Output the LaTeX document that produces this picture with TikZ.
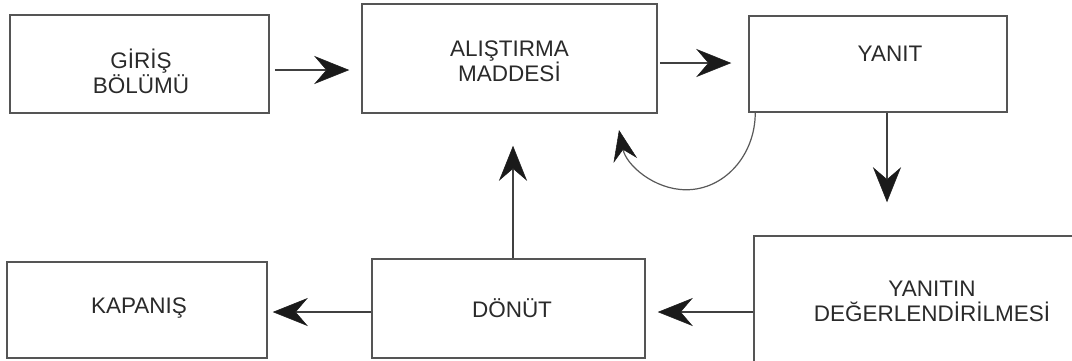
\documentclass[tikz,border=0pt]{standalone}
\usepackage{fontspec}
\setmainfont{Liberation Sans}
\usetikzlibrary{arrows.meta,calc}
\definecolor{boxline}{HTML}{555555}
\definecolor{txt}{HTML}{2A2A2A}
\definecolor{tipc}{HTML}{1A1A1A}
\begin{document}
\begin{tikzpicture}[x=1pt,y=-1pt,
  box/.style={draw=boxline,line width=1.5pt,rectangle,inner sep=0pt,fill=white},
  lbl/.style={text=txt,align=center,font=\fontsize{22.5}{25}\selectfont},
  arr/.style={draw=black!75,line width=1.3pt,-{Stealth[length=35pt,width=28pt,inset=12pt,color=tipc,fill=tipc,line width=0.5pt]}}]
\useasboundingbox (0,0) rectangle (1072,360);
\clip (0,0) rectangle (1072,360);
\fill[white] (0,0) rectangle (1072,360);
% boxes
\node[box,minimum width=259pt,minimum height=98pt,
  label={[lbl,xshift=1.5pt,yshift=-7pt]center:{GİRİŞ\\BÖLÜMÜ}}] (giris) at (139.5,64) {};
\node[box,minimum width=295pt,minimum height=109pt,
  label={[lbl,yshift=-3pt]center:{ALIŞTIRMA\\MADDESİ}}] (alistirma) at (509.5,58.5) {};
\node[box,minimum width=258pt,minimum height=96pt,
  label={[lbl,xshift=12pt,yshift=10.5pt]center:{YANIT}}] (yanit) at (878,64) {};
\node[box,minimum width=336pt,minimum height=144pt,
  label={[lbl,xshift=10pt,yshift=7pt]center:{YANITIN\\DEĞERLENDİRİLMESİ}}] (yanitin) at (922,308) {};
\node[box,minimum width=273pt,minimum height=99pt,
  label={[lbl,xshift=3.5pt]center:{DÖNÜT}}] (donut) at (508.5,308.5) {};
\node[box,minimum width=260pt,minimum height=96pt,
  label={[lbl,xshift=2pt,yshift=2pt]center:{KAPANIŞ}}] (kapanis) at (137,310) {};
% connectors
\draw[arr] ($(giris.east)+(5,6)$) -- ($(alistirma.west |- giris.east)+(-12,6)$);
\draw[arr] ($(alistirma.east)+(2,4.5)$) -- ($(yanit.west |- alistirma.east)+(-17,4.5)$);
\draw[arr] ($(yanit.south)+(9,0)$) -- ($(yanit.south |- yanitin.north)+(9,-33)$);
\draw[arr] ($(yanitin.west)+(0,4)$) -- ($(donut.east |- yanitin.west)+(12,4)$);
\draw[arr] ($(donut.west)+(0,3.5)$) -- ($(kapanis.east |- donut.west)+(5,3.5)$);
\draw[arr] ($(donut.north)+(4.5,0)$) -- ($(alistirma.south)+(3.5,32)$);
\draw[draw=black!65,line width=1.2pt,-{Stealth[length=31pt,width=24pt,inset=11pt,color=tipc,fill=tipc,line width=0.5pt]}]
  ($(yanit.south west)+(7,0)$) arc[start angle=0,end angle=-167,x radius=69pt,y radius=77pt];
\end{tikzpicture}
\end{document}
